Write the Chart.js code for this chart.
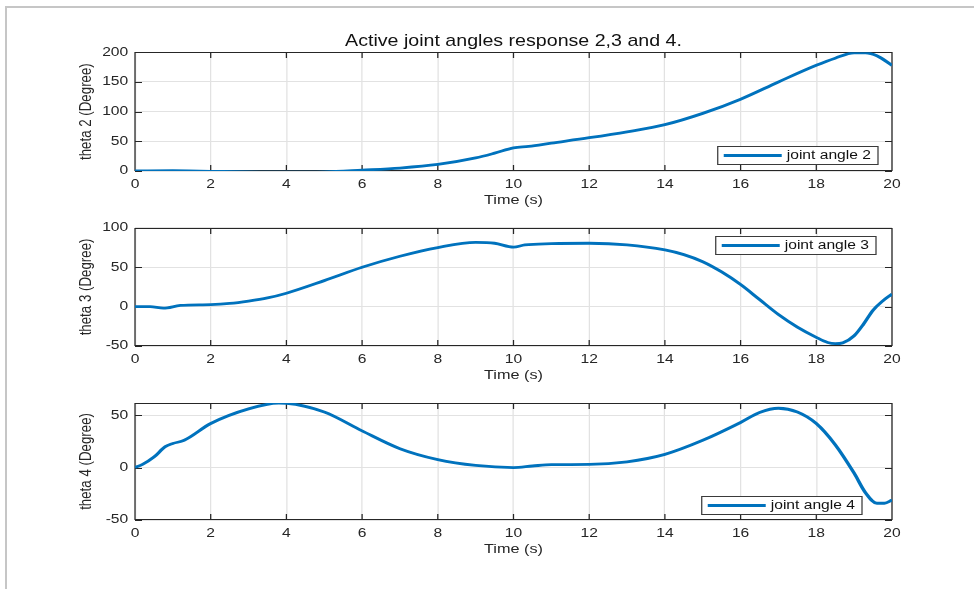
<!DOCTYPE html>
<html>
<head>
<meta charset="utf-8">
<title>Active joint angles response</title>
<script src="https://cdn.jsdelivr.net/npm/chart.js@4.4.1/dist/chart.umd.min.js"></script>
<style>
    body { margin: 0; background: #fff; }
    #figure { position: relative; width: 974px; height: 589px; overflow: hidden; background: #fff; }
    #frame { position: absolute; left: 5px; top: 6px; right: 0; bottom: 0; border-top: 2px solid #c6c6c6; border-left: 2px solid #c6c6c6; }
    .panel { position: absolute; left: 0; width: 974px; }
</style>
</head>
<body>
<div id="figure">
    <div id="frame"></div>
    <div class="panel" style="top:0;height:215px"><canvas id="theta2Chart"></canvas></div>
    <div class="panel" style="top:215px;height:175px"><canvas id="theta3Chart"></canvas></div>
    <div class="panel" style="top:390px;height:199px"><canvas id="theta4Chart"></canvas></div>
</div>
<script>

// joint angle samples (time in s, angle in degree)
const time2 = [0, 1, 2, 3, 4, 5, 6, 7, 8, 9, 9.5, 10, 10.4, 11, 12, 13, 14, 15, 16, 17, 18, 18.5, 19, 19.3, 19.6, 20]
const theta2 = [0, 0.5, -0.5, -1.5, -2, -1.5, 1.5, 5, 11, 22, 30, 39, 41.5, 47, 56, 66, 78, 97, 121, 150, 178, 190, 199, 199, 194, 178]

const time3 = [0, 0.4, 0.75, 1.2, 2, 2.5, 3, 3.5, 4, 5, 6, 7, 8, 9, 9.5, 10, 10.3, 11, 12, 13, 14, 14.5, 15, 15.5, 16, 16.5, 17, 17.5, 18, 18.3, 18.5, 18.7, 19, 19.25, 19.5, 19.75, 20]
const theta3 = [0, 0, -2, 1.5, 2.5, 4, 7, 11, 17, 33, 50, 64, 75, 81.5, 80.5, 75.5, 78.5, 80, 80.5, 78.5, 72, 66, 57, 44, 28, 9, -10, -26, -39, -45.5, -47, -46, -37, -22, -4.5, 7, 16]

const time4 = [0, 0.2, 0.5, 0.8, 1, 1.3, 2, 3, 3.8, 4, 5, 6, 7, 8, 9, 10, 10.5, 11, 12, 13, 14, 15, 16, 16.5, 17, 17.5, 18, 18.5, 19, 19.3, 19.6, 19.8, 20]
const theta4 = [0, 3, 10, 20, 23, 26, 42, 56, 61.5, 61.3, 53, 35, 18, 7.6, 2, 0, 1.5, 2.8, 3, 5.5, 12.6, 26, 43, 52.5, 56.6, 53, 42, 21.8, -5.4, -24, -34, -34, -31]

const xTicks = [0, 2, 4, 6, 8, 10, 12, 14, 16, 18, 20]
const yTicks2 = [0, 50, 100, 150, 200]
const yTicks3 = [-50, 0, 50, 100]
const yTicks4 = [-50, 0, 50]

// text in this figure is wide, so each panel is laid out narrow and stretched sideways
const STRETCH = 1.25
const FONT = "'Liberation Sans', Arial, Helvetica, sans-serif"
const INK = "#262626"
const GRID = "#e2e2e2"
const BLUE = "#0072BD"
const PLOT_LEFT = 108
const PLOT_RIGHT = 713.6
const TICK_LEN = 5.6
const X_AXIS_HEIGHT = 36.8

const stretchPlugin = {
    id: "stretch",
    beforeDraw(chart) {
        chart.ctx.save()
        chart.ctx.scale(STRETCH, 1)
    },
    afterDraw(chart) {
        chart.ctx.restore()
    }
}

// box round the plot with inward ticks on all four sides
const axesBox = {
    id: "axesBox",
    beforeDatasetsDraw(chart) {
        const { ctx, chartArea: a, scales: { x, y } } = chart
        const top = Math.round(a.top) + 0.5
        const bottom = Math.round(a.bottom) - 0.5
        ctx.save()
        ctx.strokeStyle = INK
        ctx.lineWidth = 1
        ctx.beginPath()
        xTicks.forEach(v => {
            const px = x.getPixelForValue(v)
            ctx.moveTo(px, bottom)
            ctx.lineTo(px, bottom - TICK_LEN)
            ctx.moveTo(px, top)
            ctx.lineTo(px, top + TICK_LEN)
        })
        y.ticks.forEach(t => {
            const py = Math.round(y.getPixelForValue(t.value)) + 0.5
            ctx.moveTo(a.left, py)
            ctx.lineTo(a.left + TICK_LEN, py)
            ctx.moveTo(a.right, py)
            ctx.lineTo(a.right - TICK_LEN, py)
        })
        ctx.rect(a.left, top, a.right - a.left, bottom - top)
        ctx.stroke()
        ctx.restore()
    }
}

// legend drawn inside the plot area
const legendBox = {
    id: "legendBox",
    afterDatasetsDraw(chart, args, opts) {
        const { ctx, chartArea: a } = chart
        const ds = chart.data.datasets[0]
        ctx.save()
        ctx.font = "12.5px " + FONT
        const textW = ctx.measureText(ds.label).width
        const w = 4.8 + 46.4 + 4 + textW + 5.6
        const h = 18
        const left = a.right - opts.right - w
        const top = Math.round(opts.top != null ? a.top + opts.top : a.bottom - opts.bottom - h) + 0.5
        ctx.fillStyle = "#fff"
        ctx.fillRect(left, top, w, h)
        ctx.strokeStyle = "#3a3a3a"
        ctx.lineWidth = 1
        ctx.strokeRect(left, top, w, h)
        ctx.strokeStyle = BLUE
        ctx.lineWidth = ds.borderWidth
        ctx.beginPath()
        ctx.moveTo(left + 4.8, top + h / 2)
        ctx.lineTo(left + 4.8 + 46.4, top + h / 2)
        ctx.stroke()
        ctx.fillStyle = "#111"
        ctx.textBaseline = "middle"
        ctx.fillText(ds.label, left + 4.8 + 46.4 + 4, top + h / 2 + 0.5)
        ctx.restore()
    }
}

function makePanel(id, cfg) {

    return new Chart(document.getElementById(id), {
        type: "line",
        data: {
            datasets: [{
                label: cfg.label,
                data: cfg.time.map((t, i) => ({ x: t, y: cfg.values[i] })),
                borderColor: BLUE,
                borderWidth: 2.8,
                pointRadius: 0,
                cubicInterpolationMode: "monotone",
                fill: false
            }]
        },
        options: {
            responsive: true,
            maintainAspectRatio: false,
            animation: false,
            events: [],
            layout: {
                padding: { top: cfg.padTop, bottom: cfg.padBottom, left: 0, right: 974 - PLOT_RIGHT }
            },
            plugins: {
                legend: { display: false },
                tooltip: { enabled: false },
                title: cfg.title ? {
                    display: true,
                    text: cfg.title,
                    fullSize: false,
                    color: "#111",
                    font: { family: FONT, size: 15.7, weight: "normal" },
                    padding: { top: 32.6, bottom: 0.8 }
                } : { display: false },
                legendBox: cfg.legend
            },
            scales: {
                x: {
                    type: "linear",
                    min: 0,
                    max: 20,
                    afterBuildTicks: s => { s.ticks = xTicks.map(v => ({ value: v })) },
                    afterFit: s => { s.height = X_AXIS_HEIGHT },
                    grid: { color: GRID, drawTicks: false },
                    border: { display: false },
                    ticks: {
                        color: INK,
                        font: { family: FONT, size: 12.5 },
                        padding: 5.7,
                        maxRotation: 0,
                        autoSkip: false
                    },
                    title: {
                        display: true,
                        text: "Time (s)",
                        color: INK,
                        font: { family: FONT, size: 13 },
                        padding: 0
                    }
                },
                y: {
                    type: "linear",
                    min: cfg.yMin,
                    max: cfg.yMax,
                    afterBuildTicks: s => { s.ticks = cfg.yTicks.map(v => ({ value: v })) },
                    afterFit: s => { s.width = PLOT_LEFT },
                    grid: { color: GRID, drawTicks: false },
                    border: { display: false },
                    ticks: {
                        color: INK,
                        font: { family: FONT, size: 12.5 },
                        padding: 5.4
                    },
                    title: {
                        display: true,
                        text: cfg.yTitle,
                        color: INK,
                        font: { family: FONT, size: 13.3 },
                        padding: { top: 60.8, bottom: 0 }
                    }
                }
            }
        },
        plugins: [stretchPlugin, axesBox, legendBox]
    })
}

makePanel("theta2Chart", {
    label: "joint angle 2",
    title: "Active joint angles response 2,3 and 4.",
    time: time2,
    values: theta2,
    yMin: 0,
    yMax: 200,
    yTicks: yTicks2,
    yTitle: "theta 2 (Degree)",
    padTop: 0,
    padBottom: 7.2,
    legend: { right: 11.2, bottom: 7 }
})

makePanel("theta3Chart", {
    label: "joint angle 3",
    time: time3,
    values: theta3,
    yMin: -50,
    yMax: 100,
    yTicks: yTicks3,
    yTitle: "theta 3 (Degree)",
    padTop: 12,
    padBottom: 7.2,
    legend: { right: 12.8, top: 8 }
})

makePanel("theta4Chart", {
    label: "joint angle 4",
    time: time4,
    values: theta4,
    yMin: -50,
    yMax: 61.7,
    yTicks: yTicks4,
    yTitle: "theta 4 (Degree)",
    padTop: 11,
    padBottom: 32.2,
    legend: { right: 24, bottom: 6 }
})

</script>
</body>
</html>
